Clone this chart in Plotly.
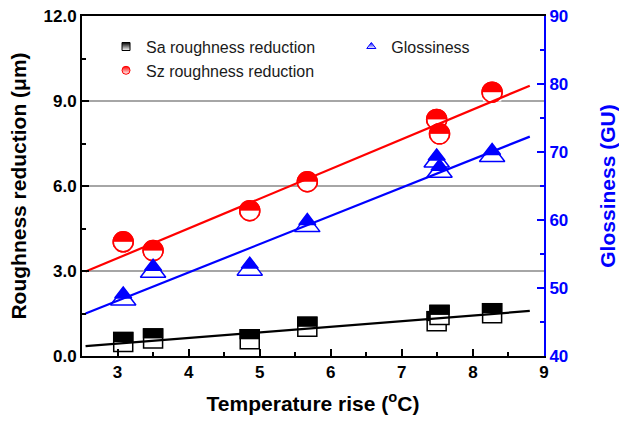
import numpy as np
import plotly.graph_objects as go

# Measured samples: temperature rise and the three responses
temp_rise = [3.08, 3.50, 4.86, 5.67, 7.49, 7.53, 8.27]
sa_reduction = [0.49, 0.62, 0.59, 1.03, 1.23, 1.45, 1.51]
sz_reduction = [4.03, 3.72, 5.13, 6.15, 8.35, 7.84, 9.31]
glossiness = [48.3, 52.4, 52.7, 59.1, 68.6, 67.1, 69.4]

x_ticks = [3, 4, 5, 6, 7, 8, 9]
rough_ticks = [0.0, 3.0, 6.0, 9.0, 12.0]
gloss_ticks = [40, 50, 60, 70, 80, 90]

X_RANGE = [2.5, 9]
ROUGH_RANGE = [0, 12]
GLOSS_RANGE = [40, 90]
FIT_SPAN = [2.55, 8.8]

W, H = 619, 421
MARGIN = dict(l=82, r=75, t=16, b=65)
PLOT_H = H - MARGIN["t"] - MARGIN["b"]

BLACK, RED, BLUE = "#000000", "#FF0000", "#0000FF"
FONT = "Arial, 'Liberation Sans', sans-serif"

SQ, CI, TRI, OUT = 19, 20, 22, 1.5


def px_to_data(px, rng):
    """Convert a vertical pixel distance into data units of an axis."""
    return px * (rng[1] - rng[0]) / PLOT_H


def pt(fig, x, y, yaxis, marker):
    fig.add_trace(go.Scatter(x=[x], y=[y], mode="markers", yaxis=yaxis,
                             showlegend=False, hoverinfo="skip", marker=marker))


def half_square(fig, x, y, color, yaxis, rng):
    # hollow square, then a solid bar over its upper half
    pt(fig, x, y, yaxis, dict(symbol="square", size=SQ, color="white",
                              line=dict(color=color, width=OUT)))
    edge = SQ / 2 + OUT / 2
    pt(fig, x, y + px_to_data(edge / 2, rng), yaxis,
       dict(symbol="line-ew", size=2 * edge / 1.4, color=color,
            line=dict(color=color, width=edge)))


def half_circle(fig, x, y, color, yaxis, rng):
    # solid disc, lower half blanked, outline redrawn
    pt(fig, x, y, yaxis, dict(symbol="circle", size=CI, color=color,
                              line=dict(color=color, width=OUT)))
    inner = CI / 2 - OUT / 2
    pt(fig, x, y - px_to_data(inner / 2, rng), yaxis,
       dict(symbol="line-ew", size=2 * inner / 1.4, color="white",
            line=dict(color="white", width=inner)))
    pt(fig, x, y, yaxis, dict(symbol="circle-open", size=CI, color=color,
                              line=dict(color=color, width=OUT)))


def half_triangle(fig, x, y, color, yaxis, rng):
    # hollow triangle, then a similar solid triangle down to the centroid
    pt(fig, x, y, yaxis, dict(symbol="triangle-up", size=TRI, color="white",
                              line=dict(color=color, width=OUT)))
    r = TRI / 2
    pt(fig, x, y + px_to_data(np.sqrt(2) / 3 * r, rng), yaxis,
       dict(symbol="triangle-up", size=TRI * 2 / 3, color=color,
            line=dict(color=color, width=OUT)))


fig = go.Figure()

for xv, yv in zip(temp_rise, sa_reduction):
    half_square(fig, xv, yv, BLACK, "y", ROUGH_RANGE)
for xv, yv in zip(temp_rise, sz_reduction):
    half_circle(fig, xv, yv, RED, "y", ROUGH_RANGE)
for xv, yv in zip(temp_rise, glossiness):
    half_triangle(fig, xv, yv, BLUE, "y2", GLOSS_RANGE)

# Linear fits
fit_x = np.array(FIT_SPAN)
for ys, color, yaxis in [(sa_reduction, BLACK, "y"),
                         (sz_reduction, RED, "y"),
                         (glossiness, BLUE, "y2")]:
    k, b = np.polyfit(temp_rise, ys, 1)
    fig.add_trace(go.Scatter(x=fit_x, y=k * fit_x + b, mode="lines", yaxis=yaxis,
                             line=dict(color=color, width=2.2),
                             showlegend=False, hoverinfo="skip"))

# Legend entries
def legend_entry(name, symbol, color, legend):
    fig.add_trace(go.Scatter(
        x=[None], y=[None], mode="markers", name=name, legend=legend,
        marker=dict(symbol=symbol, size=8, color=color,
                    gradient=dict(type="vertical", color="white"),
                    line=dict(color=color, width=1))))

legend_entry("Sa roughness reduction", "square", BLACK, "legend")
legend_entry("Sz roughness reduction", "circle", RED, "legend")
legend_entry("Glossiness", "triangle-up", BLUE, "legend2")

legend_style = dict(xanchor="left", yanchor="top", bgcolor="rgba(0,0,0,0)",
                    font=dict(family=FONT, size=16, color="#1a1a1a"),
                    itemwidth=30, tracegroupgap=0)

fig.update_layout(
    width=W, height=H, margin=MARGIN,
    paper_bgcolor="white", plot_bgcolor="white",
    hovermode=False,
    legend=dict(x=0.052, y=0.96, **legend_style),
    legend2=dict(x=0.583, y=0.96, **legend_style),
    xaxis=dict(
        range=X_RANGE, tickvals=x_ticks, ticks="inside", ticklen=7, tickwidth=2,
        tickcolor=BLACK, showline=True, linecolor=BLACK, linewidth=2, mirror=True,
        showgrid=False, zeroline=False, automargin=False,
        minor=dict(ticks="inside", dtick=0.5, ticklen=4, tickwidth=2, tickcolor=BLACK),
        tickfont=dict(family=FONT, size=17, color=BLACK, weight="bold"),
        title=dict(text="Temperature rise (<sup>o</sup>C)", standoff=15,
                   font=dict(family=FONT, size=21, color=BLACK, weight="bold")),
    ),
    yaxis=dict(
        range=ROUGH_RANGE, tickvals=rough_ticks, tickformat=".1f",
        ticks="inside", ticklen=7, tickwidth=2, tickcolor=BLACK,
        showline=True, linecolor=BLACK, linewidth=2, automargin=False,
        showgrid=True, gridcolor="#A6A6A6", gridwidth=1.5, zeroline=False,
        minor=dict(ticks="inside", dtick=1.5, ticklen=4, tickwidth=2,
                   tickcolor=BLACK, showgrid=False),
        tickfont=dict(family=FONT, size=17, color=BLACK, weight="bold"),
        title=dict(text="Roughness reduction (\u03bcm)", standoff=11,
                   font=dict(family=FONT, size=21, color=BLACK, weight="bold")),
    ),
    yaxis2=dict(
        overlaying="y", side="right", range=GLOSS_RANGE, tickvals=gloss_ticks,
        ticks="inside", ticklen=7, tickwidth=2, tickcolor=BLUE,
        showline=True, linecolor=BLUE, linewidth=2, automargin=False,
        showgrid=False, zeroline=False,
        minor=dict(ticks="inside", dtick=5, ticklen=4, tickwidth=2, tickcolor=BLUE),
        tickfont=dict(family=FONT, size=17, color=BLUE, weight="bold"),
        title=dict(text="Glossiness (GU)", standoff=36,
                   font=dict(family=FONT, size=21, color=BLUE, weight="bold")),
    ),
)

fig.write_html("out.html")
